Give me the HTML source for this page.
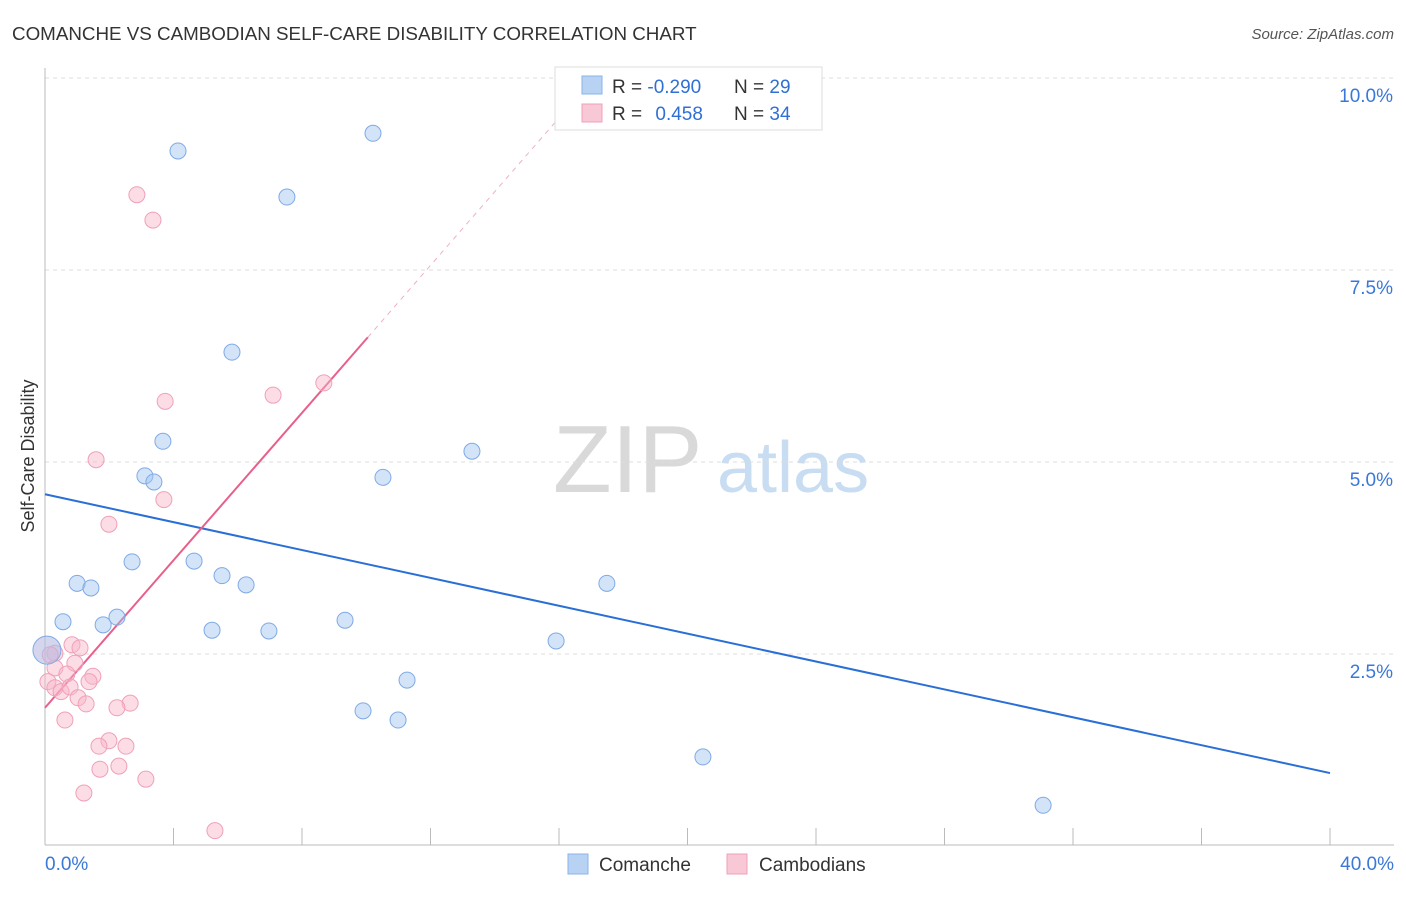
<!DOCTYPE html>
<html><head><meta charset="utf-8"><style>
body{margin:0;background:#fff;font-family:"Liberation Sans",sans-serif;}
svg text{font-family:"Liberation Sans",sans-serif;}
</style></head><body>
<svg id="chart" width="1406" height="892">
<text x="12" y="40" font-size="18.8" fill="#333">COMANCHE VS CAMBODIAN SELF-CARE DISABILITY CORRELATION CHART</text>
<text x="1394" y="39" font-size="15" fill="#555" text-anchor="end" font-style="italic">Source: ZipAtlas.com</text>
<text x="0" y="0" font-size="18" fill="#333" text-anchor="middle" transform="translate(34,456) rotate(-90)">Self-Care Disability</text>
<g>
<text x="553" y="492" font-size="96" fill="#d9d9d9" font-family="Liberation Serif">ZIP</text>
<text x="717" y="492" font-size="72" fill="#c8dcf2">atlas</text>
</g>
<g id="grid"></g><g id="axes"></g><g id="trend"></g><g id="pts"></g>
<g>
<rect x="555" y="67" width="267" height="63" fill="#fff" stroke="#ddd"/>
<rect x="582" y="76" width="20" height="18" fill="#b8d2f4" stroke="#8ab4e8"/>
<rect x="582" y="104" width="20" height="18" fill="#f9c8d6" stroke="#f0a0b8"/>
<text x="612" y="93" font-size="19" fill="#333">R = <tspan fill="#2f6fd6">-0.290</tspan></text>
<text x="734" y="93" font-size="19" fill="#333">N = <tspan fill="#2f6fd6">29</tspan></text>
<text x="612" y="120" font-size="19" fill="#333">R = <tspan fill="#2f6fd6" dx="8">0.458</tspan></text>
<text x="734" y="120" font-size="19" fill="#333">N = <tspan fill="#2f6fd6">34</tspan></text>
</g>
<g>
<rect x="568" y="854" width="20" height="20" fill="#b8d2f4" stroke="#8ab4e8"/>
<text x="599" y="871" font-size="19" fill="#333">Comanche</text>
<rect x="727" y="854" width="20" height="20" fill="#f9c8d6" stroke="#f0a0b8"/>
<text x="759" y="871" font-size="19" fill="#333">Cambodians</text>
</g>
</svg>
<script>
const yTicks=[2.5,5.0,7.5,10.0];
const yTickLabels=["2.5%","5.0%","7.5%","10.0%"];
const xTickLabels=["0.0%","40.0%"];
const comancheX=[4.14,10.21,7.53,5.82,3.67,13.29,3.11,3.39,10.52,2.71,4.64,1.00,1.43,5.51,6.26,17.49,0.56,1.81,2.24,5.20,6.97,9.34,15.91,11.27,9.90,10.99,20.48,31.07,0.06];
const comancheY=[9.05,9.28,8.45,6.43,5.27,5.14,4.82,4.74,4.80,3.70,3.71,3.42,3.36,3.52,3.40,3.42,2.92,2.88,2.98,2.81,2.80,2.94,2.67,2.16,1.76,1.64,1.16,0.53,2.55];
const cambX=[2.86,3.36,8.68,7.10,3.74,1.59,3.70,1.99,0.84,1.09,0.31,0.93,0.31,0.68,1.49,1.37,0.09,0.31,0.50,0.78,1.03,1.28,2.65,2.24,0.62,1.99,1.68,2.52,1.71,2.30,3.14,1.21,5.29,0.16];
const cambY=[8.48,8.15,6.03,5.87,5.79,5.03,4.51,4.19,2.62,2.58,2.51,2.38,2.32,2.24,2.21,2.14,2.14,2.06,2.01,2.07,1.93,1.85,1.86,1.80,1.64,1.37,1.30,1.30,1.00,1.04,0.87,0.69,0.20,2.49];
const comancheTrend=[4.58,0.95];
const cambTrend=[1.80,0.48];
const NS='http://www.w3.org/2000/svg';
const X=v=>45+v*32.125, Y=v=>846-v*76.8;
function mk(tag,parent,attrs){const e=document.createElementNS(NS,tag);for(const k in attrs)e.setAttribute(k,attrs[k]);document.getElementById(parent).appendChild(e);return e;}
yTicks.forEach((t,i)=>{
 const l=mk('line','grid',{x1:45,x2:1394,y1:Y(t),y2:Y(t),stroke:'#ddd','stroke-dasharray':'4,4'});
 
 
 const tx=mk('text','grid',{x:1393,y:Y(t)+24,'font-size':19,fill:'#3a78d8','text-anchor':'end'});
 tx.textContent=yTickLabels[i];
 
 
});
const ax=mk('line','axes',{x1:45,x2:1394,y1:845,y2:845,stroke:'#bbb'});


const ay=mk('line','axes',{x1:45,x2:45,y1:68,y2:845,stroke:'#bbb'});


for(let i=1;i<=10;i++){const t=mk('line','axes',{x1:X(i*4),x2:X(i*4),y1:828,y2:845,stroke:'#bbb'});
 
 }
[[0,'start',45],[40,'end',1394]].forEach((a,i)=>{const t=mk('text','axes',{x:a[2],y:870,'font-size':19,fill:'#3a78d8','text-anchor':a[1]});t.textContent=xTickLabels[i];
 
 });
const bl=mk('line','trend',{x1:X(0),y1:Y(comancheTrend[0]),x2:X(40),y2:Y(comancheTrend[1]),stroke:'#2a6fd6','stroke-width':2});


const xEnd=10.05, xDash=(10-cambTrend[0])/cambTrend[1];
const pl=mk('line','trend',{x1:X(0),y1:Y(cambTrend[0]),x2:X(xEnd),y2:Y(cambTrend[0]+cambTrend[1]*xEnd),stroke:'#e8608a','stroke-width':2});


const pd=mk('line','trend',{x1:X(xEnd),y1:Y(cambTrend[0]+cambTrend[1]*xEnd),x2:X(xDash),y2:Y(10),stroke:'#f0b0c4','stroke-width':1,'stroke-dasharray':'5,5'});


const big=mk('circle','pts',{cx:X(0.06),cy:Y(2.55),r:14,fill:'rgba(248,180,200,0.35)',stroke:'none'});


cambX.forEach((x,i)=>{const c=mk('circle','pts',{cx:X(x),cy:Y(cambY[i]),r:8,fill:'rgba(248,180,200,0.45)',stroke:'#f0a0b8','stroke-width':1});
 
 });
comancheX.forEach((x,i)=>{const c=mk('circle','pts',{cx:X(x),cy:Y(comancheY[i]),r:i==comancheX.length-1?14:8,fill:'rgba(160,196,240,0.45)',stroke:'#7eaae6','stroke-width':1});
 
 });
</script>
</body></html>
